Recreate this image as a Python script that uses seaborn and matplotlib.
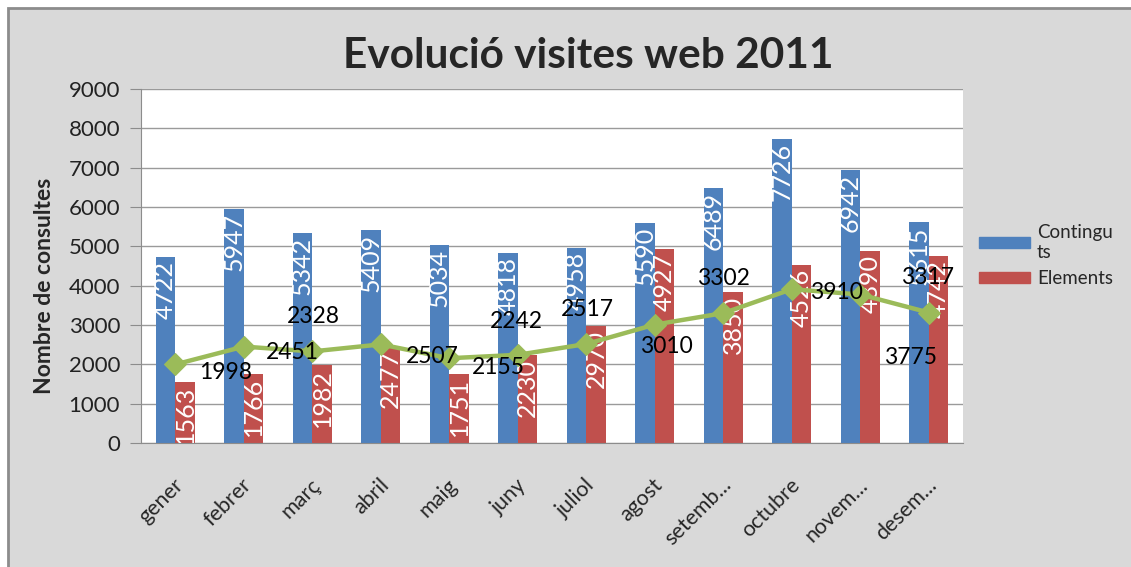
import numpy as np
import pandas as pd
import seaborn as sns
import matplotlib.pyplot as plt
import matplotlib.transforms as mtransforms
from matplotlib.patches import Rectangle

# dades
mesos = ["gener", "febrer", "març", "abril", "maig", "juny", "juliol",
         "agost", "setemb...", "octubre", "novem...", "desem..."]
continguts = [4722, 5947, 5342, 5409, 5034, 4818, 4958, 5590, 6489, 7726, 6942, 5615]
elements = [1563, 1766, 1982, 2477, 1751, 2230, 2970, 4927, 3850, 4526, 4890, 4742]
linia = [1998, 2451, 2328, 2507, 2155, 2242, 2517, 3010, 3302, 3910, 3775, 3317]

# posició de les etiquetes de la línia (píxels respecte al punt)
desp_etiq = [(50, -8), (49, -6), (1, 35), (52, -12), (49, -9), (-1, 33),
             (1, 34), (12, -22), (0, 35), (45, -3), (50, -63), (-1, 35)]

df = pd.DataFrame({
    "mes": mesos * 2,
    "valor": continguts + elements,
    "serie": ["Contingus"] * 12 + ["Elements"] * 12,
})

sns.set_style("white")
plt.rcParams["font.family"] = ["Lato", "DejaVu Sans"]

W, H = 1131, 567
fig = plt.figure(figsize=(W / 100, H / 100), dpi=100, facecolor="white")
fig.patches.append(Rectangle((8 / W, -0.1), 2, 1 - 8 / H + 0.1, transform=fig.transFigure,
                             facecolor="#d9d9d9", edgecolor="#8c8c8c", lw=2, zorder=-5))

ax = fig.add_axes([141 / W, 1 - 443 / H, (963 - 141) / W, (443 - 89) / H])
ax.set_facecolor("white")

blau, vermell, verd = "#4f81bd", "#c0504d", "#9bbb59"
sns.barplot(data=df, x="mes", y="valor", hue="serie", palette=[blau, vermell],
            width=0.57, saturation=1, linewidth=0, ax=ax, legend=False, zorder=2)

# etiquetes de les barres
for cont, vals in zip(ax.containers, [continguts, elements]):
    for rect, v in zip(cont, vals):
        t = ax.annotate(str(v), (rect.get_x() + rect.get_width() / 2, rect.get_height()),
                        xytext=(0, -4), textcoords="offset pixels", rotation=90,
                        ha="center", va="top", color="white", fontsize=18, zorder=3)
        t.set_clip_box(ax.bbox)
        t.set_clip_on(True)

sns.lineplot(x=np.arange(12), y=linia, color=verd, lw=3.2, marker="D", markersize=11,
             markeredgecolor=verd, ax=ax, zorder=4)

for i, (v, (dx, dy)) in enumerate(zip(linia, desp_etiq)):
    ax.annotate(str(v), (i, v), xytext=(dx, dy), textcoords="offset pixels",
                ha="center", va="center", fontsize=16.5, color="black", zorder=5)

ax.set_xlim(-0.5, 11.5)
ax.set_ylim(0, 9000)
ax.set_yticks(range(0, 9001, 1000))
ax.yaxis.grid(True, color="#9a9a9a", lw=1)
ax.set_axisbelow(True)
for s in ["top", "right"]:
    ax.spines[s].set_visible(False)
for s in ["left", "bottom"]:
    ax.spines[s].set_color("#8c8c8c")
ax.set_xlabel("")
ax.set_ylabel("")

ax.set_xticks(range(12))
ax.set_xticklabels(mesos)
ax.set_xticks(np.arange(-0.5, 12, 1), minor=True)
ax.tick_params(axis="x", which="major", length=0, pad=28, labelsize=15.5)
ax.tick_params(axis="x", which="minor", length=8, color="#8c8c8c", direction="out")
ax.tick_params(axis="y", length=8, color="#8c8c8c", direction="out", pad=7, labelsize=16,
               labelcolor="#222222", left=True)
off = mtransforms.ScaledTranslation(0.05, 0, fig.dpi_scale_trans)
for lab in ax.get_xticklabels():
    lab.set_rotation(45)
    lab.set_ha("right")
    lab.set_va("center")
    lab.set_rotation_mode("anchor")
    lab.set_transform(lab.get_transform() + off)

fig.text(588 / W, 1 - 56 / H, "Evolució visites web 2011", ha="center", va="center",
         fontsize=30.5, weight="bold")
fig.text(45 / W, 1 - 286 / H, "Nombre de consultes", ha="center", va="center",
         rotation=90, fontsize=16.5, weight="bold")

# llegenda
hand = [Rectangle((0, 0), 1, 1, color=blau), Rectangle((0, 0), 1, 1, color=vermell)]
fig.legend(hand, ["Contingu\nts", "Elements"], loc="upper left",
           bbox_to_anchor=(962 / W, 1 - 207 / H), frameon=False, fontsize=13.5,
           handlelength=2.7, handleheight=0.55, labelspacing=0.5, handletextpad=0.4)

fig.savefig("out.png", dpi=100, facecolor="white")
